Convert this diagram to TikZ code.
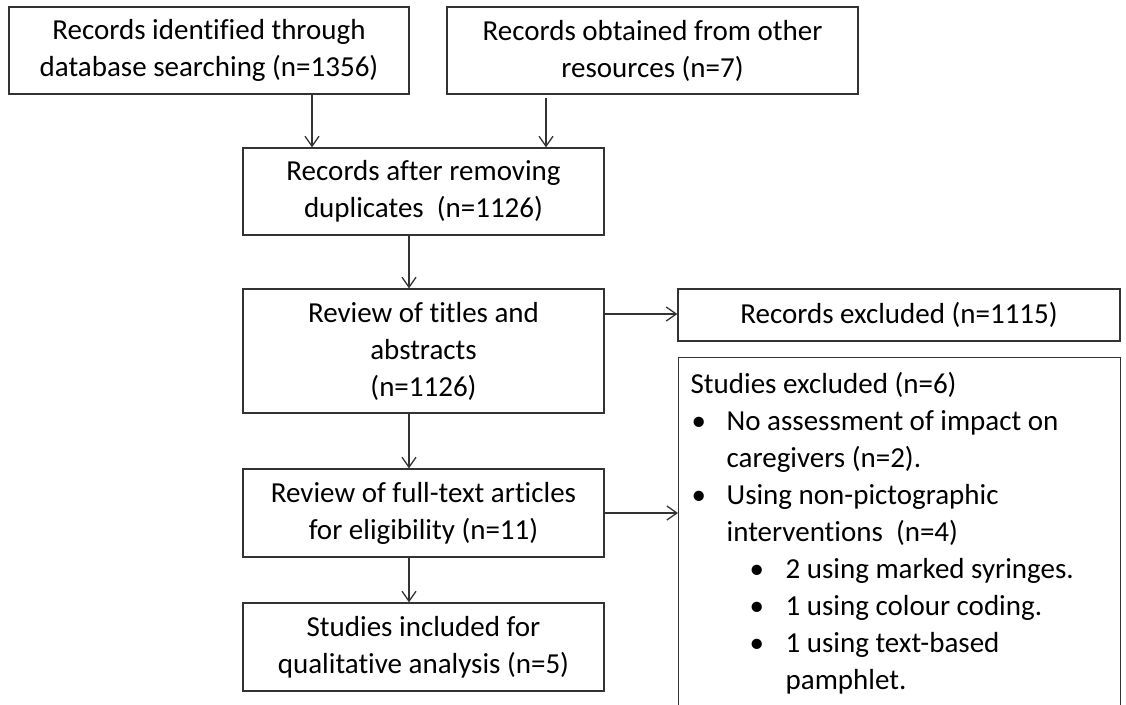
\documentclass[tikz,border=0pt]{standalone}
\usepackage{fontspec}
\setmainfont{Carlito}[Ligatures=CommonOff]
\usetikzlibrary{arrows.meta}
\begin{document}
\begin{tikzpicture}[x=1pt,y=-1pt,
  box/.style={draw=black!80, line width=1.3pt, align=center, inner sep=0pt,
    font=\fontsize{29}{37}\selectfont, text=black},
  arr/.style={draw=black!80, line width=1.3pt, -{Straight Barb[length=10pt,width=14pt]}}]
\useasboundingbox (0,0) rectangle (1126,704);
\node[box, minimum width=400pt, minimum height=87pt] (b1) at (209,50.5)
  {Records identified through\\database searching (n=1356)};
\node[box, minimum width=411pt, minimum height=87pt] (b2) at (652.5,50.5)
  {Records obtained from other\\resources (n=7)};
\node[box, minimum width=361pt, minimum height=87pt] (b3) at (423.5,191.5)
  {Records after removing\\duplicates\ \ (n=1126)};
\node[box, minimum width=361pt, minimum height=124pt] (b4) at (423.5,351)
  {Review of titles and\\abstracts\\(n=1126)};
\node[box, minimum width=442pt, minimum height=52pt] (b5) at (899,315)
  {Records excluded (n=1115)};
\node[box, anchor=north west, align=flush left, text width=418pt, inner xsep=12pt,
  inner ysep=0pt] (b6) at (678,357)
  {\rule{0pt}{36pt}Studies excluded (n=6)\\
   \hspace*{1pt}\makebox[35pt][l]{•}No assessment of impact on\\
   \hspace*{36pt}caregivers (n=2).\\
   \hspace*{1pt}\makebox[35pt][l]{•}Using non-pictographic\\
   \hspace*{36pt}interventions\ \ (n=4)\\
   \hspace*{59pt}\makebox[36pt][l]{•}2 using marked syringes.\\
   \hspace*{59pt}\makebox[36pt][l]{•}1 using colour coding.\\
   \hspace*{59pt}\makebox[36pt][l]{•}1 using text-based\\
   \hspace*{95pt}pamphlet.\rule[-40pt]{0pt}{40pt}};
\node[box, minimum width=361pt, minimum height=88pt] (b7) at (423.5,513)
  {Review of full-text articles\\for eligibility (n=11)};
\node[box, minimum width=361pt, minimum height=88pt] (b8) at (423.5,647)
  {Studies included for\\qualitative analysis (n=5)};
\coordinate (xa) at (312,0);
\coordinate (xb) at (546,0);
\coordinate (xc) at (409,0);
\coordinate (yd) at (0,513);
\coordinate (ye) at (0,314);
\draw[arr] (b1.south -| xa) -- (b3.north -| xa);
\draw[arr] ([yshift=-3pt]b2.south -| xb) -- (b3.north -| xb);
\draw[arr] (b3.south -| xc) -- (b4.north -| xc);
\draw[arr] (b4.south -| xc) -- (b7.north -| xc);
\draw[arr] (b7.south -| xc) -- (b8.north -| xc);
\draw[arr] (b4.east |- ye) -- (b5.west |- ye);
\draw[arr] (b7.east |- yd) -- (b6.west |- yd);
\end{tikzpicture}
\end{document}
